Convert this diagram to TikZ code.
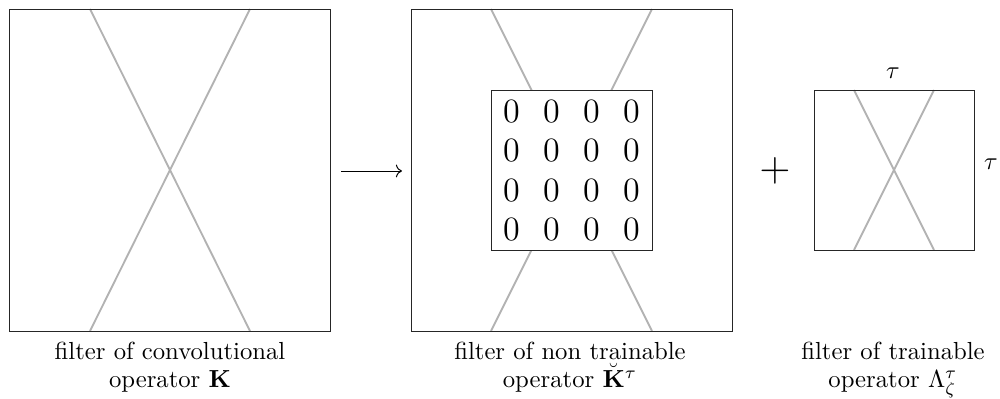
\documentclass[tikz,border=0pt]{standalone}
\usetikzlibrary{arrows.meta}
\begin{document}
\begin{tikzpicture}[x=0.405pt,y=-0.405pt,
  frame/.style={draw=black!85, line width=0.4pt},
  crossline/.style={draw=black!30, line width=0.75pt},
  zero/.style={inner sep=0pt, font=\fontsize{13.8}{16}\selectfont},
  caption/.style={anchor=north, inner sep=0pt, align=center, font=\fontsize{10}{11}\selectfont},
  dim/.style={inner sep=0pt}]
\useasboundingbox (0,0) rectangle (1000,399);
% left filter
\coordinate (L1) at (90,9);   \coordinate (L2) at (250,9);
\coordinate (L3) at (90,331); \coordinate (L4) at (250,331);
\draw[crossline] (L1) -- (L4);
\draw[crossline] (L2) -- (L3);
\draw[frame] (9,9) rectangle (330,331);
% arrow
\coordinate (A1) at (341,171);
\coordinate (A2) at (402,171);
\draw[->, line width=0.4pt] (A1) -- (A2);
% middle filter
\coordinate (M1) at (491,9);   \coordinate (M2) at (652,9);
\coordinate (M3) at (491,331); \coordinate (M4) at (652,331);
\draw[crossline] (M1) -- (M4);
\draw[crossline] (M2) -- (M3);
\draw[frame] (411,9) rectangle (732,331);
\filldraw[frame, fill=white] (491,90) rectangle (652,250);
\foreach \r/\y in {0/111.5,1/151,2/190.5,3/230}{
  \foreach \c/\x in {0/511.5,1/551.5,2/591.5,3/631.5}{
    \node[zero] (z\r\c) at (\x,\y) {0};
  }
}
% plus
\node[inner sep=0pt, font=\LARGE] (plus) at (775,171) {$+$};
% right filter
\coordinate (R1) at (854,90);  \coordinate (R2) at (934,90);
\coordinate (R3) at (854,250); \coordinate (R4) at (934,250);
\draw[crossline] (R1) -- (R4);
\draw[crossline] (R2) -- (R3);
\draw[frame] (814,90) rectangle (974,250);
\node[dim] (tautop) at (893,73) {$\tau$};
\node[dim] (tauright) at (991,164) {$\tau$};
% captions
\node[caption] (c1) at (170,342) {filter of convolutional\\ operator $\mathbf{K}$};
\node[caption] (c2) at (570,342) {filter of non trainable\\ operator $\breve{\mathbf{K}}^\tau$};
\node[caption] (c3) at (893,342) {filter of trainable\\ operator $\Lambda_\zeta^\tau$};
\end{tikzpicture}
\end{document}
